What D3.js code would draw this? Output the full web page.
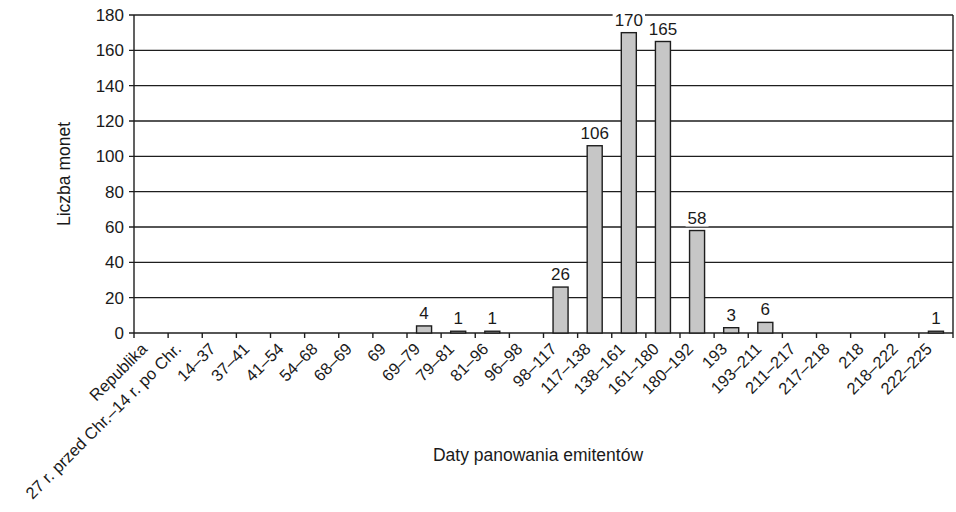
<!DOCTYPE html>
<html>
<head>
<meta charset="utf-8">
<script src="https://cdn.jsdelivr.net/npm/d3@7"></script>
<style>
  body { margin: 0; background: #fff; }
  text { font-family: "Liberation Sans", Arial, sans-serif; fill: #1a1a1a; }
</style>
</head>
<body>
<div id="chart"></div>
<script>
// Data
const categories = ["Republika", "27 r. przed Chr.–14 r. po Chr.", "14–37", "37–41", "41–54", "54–68",
    "68–69", "69", "69–79", "79–81", "81–96", "96–98", "98–117", "117–138", "138–161", "161–180",
    "180–192", "193", "193–211", "211–217", "217–218", "218", "218–222", "222–225"];
const counts = [0, 0, 0, 0, 0, 0, 0, 0, 4, 1, 1, 0, 26, 106, 170, 165, 58, 3, 6, 0, 0, 0, 0, 1];
const yTicks = [0, 20, 40, 60, 80, 100, 120, 140, 160, 180];

const width = 956, height = 512;
const margin = {top: 15, right: 3, bottom: 179, left: 134};
const svg = d3.select("#chart")
    .append("svg")
    .attr("width", width)
    .attr("height", height);

const x = d3.scaleBand()
    .domain(categories)
    .range([margin.left, width - margin.right])
    .paddingInner(0.56)
    .paddingOuter(0.28);
const y = d3.scaleLinear()
    .domain([0, 180])
    .range([height - margin.bottom, margin.top]);

const lineColor = "#1e1e1e";

// gridlines
svg.append("g")
    .selectAll("line")
    .data(yTicks)
    .enter()
    .append("line")
    .attr("x1", margin.left - 5)
    .attr("x2", width - margin.right)
    .attr("y1", d => y(d))
    .attr("y2", d => y(d))
    .style("stroke", lineColor)
    .style("stroke-width", 1.4);

// y axis labels
svg.append("g")
    .selectAll("text")
    .data(yTicks)
    .enter()
    .append("text")
    .attr("x", margin.left - 10)
    .attr("y", d => y(d))
    .attr("dy", "0.36em")
    .attr("text-anchor", "end")
    .style("font-size", "17px")
    .text(d => d);

// plot frame left and right
[margin.left, width - margin.right].forEach(px => {
    svg.append("line")
        .attr("x1", px).attr("x2", px)
        .attr("y1", y(180)).attr("y2", y(0))
        .style("stroke", lineColor).style("stroke-width", 1.4);
});

// x ticks at category boundaries
const step = x.step();
const bounds = d3.range(categories.length + 1).map(i => margin.left + i * step);
svg.append("g")
    .selectAll("line")
    .data(bounds)
    .enter()
    .append("line")
    .attr("x1", d => d).attr("x2", d => d)
    .attr("y1", y(0)).attr("y2", y(0) + 5)
    .style("stroke", lineColor)
    .style("stroke-width", 1.4);

// bars
const barData = counts.map((v, i) => ({cat: categories[i], v: v})).filter(d => d.v > 0);
svg.append("g")
    .selectAll("rect")
    .data(barData)
    .enter()
    .append("rect")
    .attr("x", d => x(d.cat))
    .attr("y", d => y(d.v))
    .attr("width", x.bandwidth())
    .attr("height", d => y(0) - y(d.v))
    .style("fill", "#c6c6c6")
    .style("stroke", "#1e1e1e")
    .style("stroke-width", 1.4);

// value labels with white background (sized to the text)
const labels = svg.append("g")
    .selectAll("g")
    .data(barData)
    .enter()
    .append("g")
    .attr("transform", d => "translate(" + (x(d.cat) + x.bandwidth() / 2) + "," + (y(d.v) - 7) + ")");
const bg = labels.append("rect").style("fill", "#fff");
labels.append("text")
    .attr("text-anchor", "middle")
    .style("font-size", "17px")
    .text(d => d.v)
    .each(function() {
        const b = this.getBBox();
        d3.select(this.parentNode).select("rect")
            .attr("x", b.x - 2).attr("y", b.y + 2)
            .attr("width", b.width + 4).attr("height", b.height - 3);
    });

// x tick labels
svg.append("g")
    .selectAll("text")
    .data(categories)
    .enter()
    .append("text")
    .attr("transform", d => "translate(" + (x(d) + x.bandwidth() / 2 - 7) + "," + (y(0) + 13) + ") rotate(-45)")
    .attr("text-anchor", "end")
    .attr("dy", "0.35em")
    .style("font-size", "16.5px")
    .text(d => d);

// axis titles
svg.append("text")
    .attr("x", 538)
    .attr("y", 461)
    .attr("text-anchor", "middle")
    .style("font-size", "17.5px")
    .text("Daty panowania emitentów");
svg.append("text")
    .attr("transform", "translate(70," + ((y(0) + y(180)) / 2) + ") rotate(-90)")
    .attr("text-anchor", "middle")
    .style("font-size", "17.5px")
    .text("Liczba monet");
</script>
</body>
</html>
